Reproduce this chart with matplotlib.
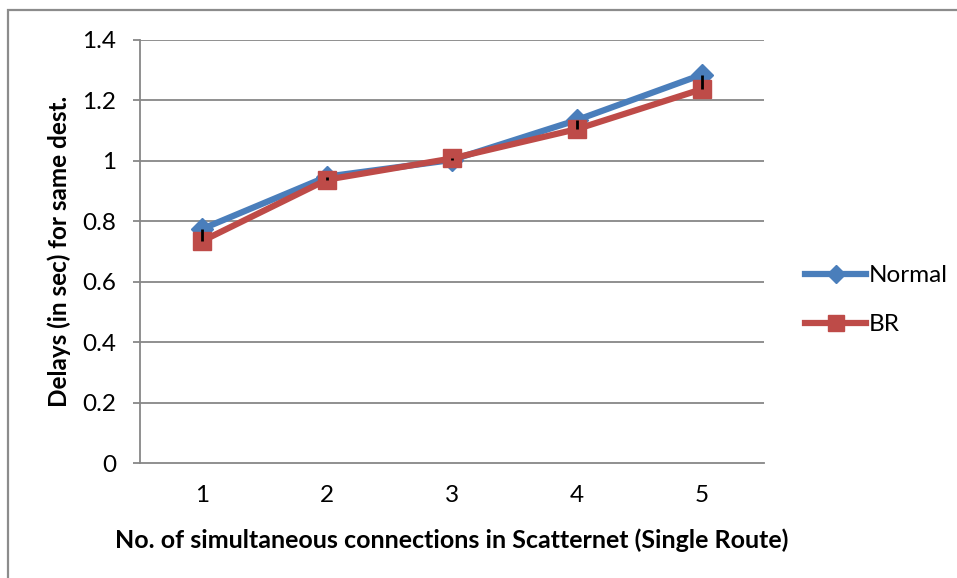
import matplotlib.pyplot as plt
from matplotlib.patches import Rectangle

# Data
connections = [1, 2, 3, 4, 5]
normal = [0.775, 0.948, 1.003, 1.135, 1.285]
br = [0.735, 0.938, 1.008, 1.105, 1.237]
y_ticks = [0, 0.2, 0.4, 0.6, 0.8, 1, 1.2, 1.4]
y_tick_labels = ['0', '0.2', '0.4', '0.6', '0.8', '1', '1.2', '1.4']

plt.rcParams['font.family'] = ['Lato', 'DejaVu Sans']

fig = plt.figure(figsize=(9.57, 5.78), dpi=100)
ax = fig.add_axes([140 / 957, 1 - 463 / 578, 624 / 957, 423 / 578])

# chart border (only top and left visible)
fig.patches.append(Rectangle((8 / 957, -0.1), 1.2, 1 - 10 / 578 + 0.1,
                             transform=fig.transFigure, fill=False,
                             edgecolor='#8c8c8c', lw=1.6))

grid_col = '#878787'
for t in y_ticks[1:]:
    ax.axhline(t, color=grid_col, lw=1.3, zorder=0)

ax.plot(connections, normal, color='#4a7ebb', lw=4.5, marker='D', ms=11,
        label='Normal', zorder=3)
ax.plot(connections, br, color='#be4b48', lw=4.5, marker='s', ms=13,
        label='BR', zorder=4)

# error bars between the two series
ax.vlines(connections, br, normal, colors='black', lw=2, zorder=5)

ax.set_xlim(0.5, 5.5)
ax.set_ylim(0, 1.4)
ax.set_xticks(connections)
ax.set_yticks(y_ticks)
ax.set_yticklabels(y_tick_labels)
ax.tick_params(axis='x', length=0, pad=16, labelsize=17.5)
ax.tick_params(axis='y', length=5, width=1.3, color=grid_col, pad=12, labelsize=17.5)

for side in ['top', 'right']:
    ax.spines[side].set_visible(False)
ax.spines['left'].set_color(grid_col)
ax.spines['bottom'].set_color(grid_col)
ax.spines['left'].set_linewidth(1.3)
ax.spines['bottom'].set_linewidth(1.3)

ax.set_xlabel('No. of simultaneous connections in Scatternet (Single Route)',
              fontsize=18, fontweight='bold', labelpad=16)
ax.set_ylabel('Delays (in sec) for same dest.', fontsize=17.5,
              fontweight='bold', labelpad=8)

ax.legend(loc='center left', bbox_to_anchor=(1.0, 0.385), frameon=False,
          fontsize=17.5, handlelength=2.5, handletextpad=0.1, labelspacing=1.15,
          borderaxespad=1.3, markerscale=0.85)

fig.savefig('out.png', dpi=100)
